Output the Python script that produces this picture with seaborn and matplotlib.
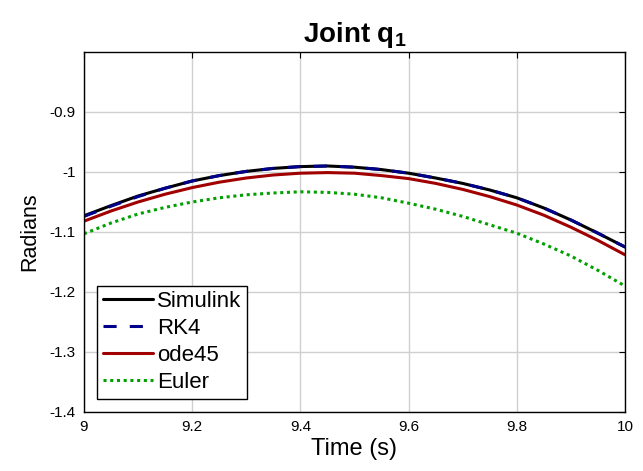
import matplotlib
matplotlib.use("Agg")
import matplotlib.pyplot as plt
import seaborn as sns
import pandas as pd

time = [9.0, 9.05, 9.1, 9.15, 9.2, 9.25, 9.3, 9.35, 9.4, 9.45, 9.5,
        9.55, 9.6, 9.65, 9.7, 9.75, 9.8, 9.85, 9.9, 9.95, 10.0]
simulink = [-1.073, -1.056, -1.040, -1.027, -1.015, -1.006, -0.999, -0.994, -0.991, -0.990, -0.992,
            -0.996, -1.002, -1.010, -1.019, -1.030, -1.043, -1.060, -1.080, -1.102, -1.125]
rk4 = [-1.074, -1.057, -1.041, -1.027, -1.015, -1.006, -0.999, -0.994, -0.991, -0.990, -0.992,
       -0.996, -1.002, -1.010, -1.019, -1.030, -1.043, -1.060, -1.080, -1.102, -1.125]
ode45 = [-1.082, -1.065, -1.050, -1.037, -1.026, -1.017, -1.010, -1.005, -1.002, -1.001, -1.002,
         -1.006, -1.011, -1.019, -1.029, -1.041, -1.055, -1.072, -1.092, -1.114, -1.138]
euler = [-1.103, -1.085, -1.070, -1.059, -1.050, -1.043, -1.038, -1.035, -1.033, -1.034, -1.037,
         -1.043, -1.052, -1.062, -1.074, -1.088, -1.102, -1.120, -1.140, -1.164, -1.190]
yticks = [-1.4, -1.3, -1.2, -1.1, -1.0, -0.9]
ytick_labels = ["-1.4", "-1.3", "-1.2", "-1.1", "-1", "-0.9"]
xticks = [9.0, 9.2, 9.4, 9.6, 9.8, 10.0]
xtick_labels = ["9", "9.2", "9.4", "9.6", "9.8", "10"]

sns.set_style("white")
plt.rcParams['font.family'] = ['Liberation Sans', 'DejaVu Sans']
plt.rcParams['mathtext.fontset'] = 'custom'
plt.rcParams['mathtext.rm'] = 'Liberation Sans'
plt.rcParams['mathtext.bf'] = 'Liberation Sans:bold'
plt.rcParams['text.color'] = 'black'
plt.rcParams['axes.labelcolor'] = 'black'

fig = plt.figure(figsize=(6.43, 4.71), dpi=100)
ax = fig.add_axes([0.1306, 0.1253, 0.8414, 0.7643])

series = [
    ("Simulink", simulink, "#000000", "-"),
    ("RK4", rk4, "#00008B", (0, (4.3, 4.3))),
    ("ode45", ode45, "#A00000", "-"),
    ("Euler", euler, "#00A000", (0, (1, 1.2))),
]
for name, vals, col, ls in series:
    df = pd.DataFrame({"t": time, "v": vals})
    sns.lineplot(data=df, x="t", y="v", ax=ax, color=col, linestyle=ls,
                 linewidth=2.2, label=name)

ax.set_xlim(9, 10)
ax.set_ylim(-1.4, -0.8)
ax.set_xticks(xticks)
ax.set_xticklabels(xtick_labels)
ax.set_yticks(yticks)
ax.set_yticklabels(ytick_labels)
ax.grid(True, color="#d0d0d0", linewidth=1)
ax.set_axisbelow(True)
ax.tick_params(direction="in", length=4, width=0.8, top=True, right=True,
               labelsize=11, colors="black", pad=6)
for s in ax.spines.values():
    s.set_color("black")
    s.set_linewidth(1)

ax.set_xlabel("Time (s)", fontsize=17, labelpad=3, color="black")
ax.set_ylabel("Radians", fontsize=15.5, labelpad=7, color="black")
ax.set_title("Joint $\\mathbf{q_1}$", fontsize=20, fontweight="bold", pad=7,
             color="black")

leg = ax.legend(loc="lower left", fontsize=16, frameon=True, fancybox=False,
                edgecolor="black", framealpha=1, handlelength=2.25,
                handletextpad=0.2, borderpad=0.25, labelspacing=0.27,
                borderaxespad=0.6)
leg.get_frame().set_linewidth(1)

fig.savefig("out.png", dpi=100)
